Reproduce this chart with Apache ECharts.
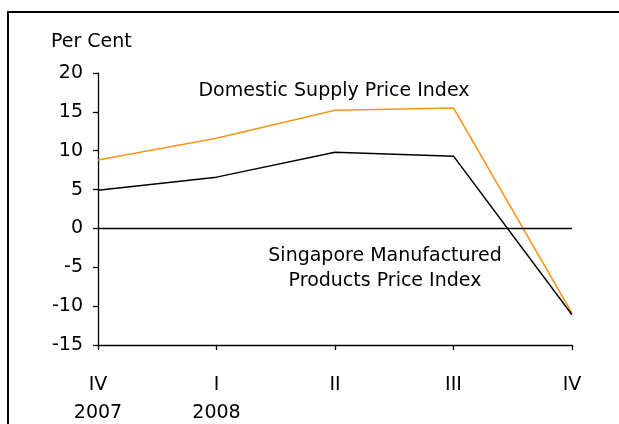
<!DOCTYPE html>
<html>
<head>
<meta charset="utf-8">
<script src="https://cdn.jsdelivr.net/npm/echarts@6/dist/echarts.min.js"></script>
<style>
  html, body { margin: 0; padding: 0; background: #fff; }
  #chart { width: 619px; height: 424px; }
</style>
</head>
<body>
<div id="chart"></div>
<script>
// quarters (Q4 2007 .. Q4 2008)
const quarters = ['IV\n2007', 'I\n2008', 'II', 'III', 'IV']
const domesticSupply = [8.8, 11.6, 15.2, 15.5, -10.9]
const manufactured = [4.9, 6.6, 9.8, 9.3, -11.1]
const yTicks = { min: -15, max: 20, step: 5 }

const font = 'DejaVu Sans'
const chart = echarts.init(document.getElementById('chart'))

const option = {
  animation: false,
  backgroundColor: '#fff',
  // outerBoundsMode none: keep the plot where we put it, labels may sit near the edge
  grid: { left: 98, right: 47, top: 73, bottom: 79, outerBoundsMode: 'none' },
  xAxis: {
    type: 'category',
    data: quarters,
    boundaryGap: false,
    axisLine: { onZero: false, lineStyle: { color: '#000', width: 1.3 } },
    axisTick: { alignWithLabel: true, length: 5, lineStyle: { color: '#000', width: 1.3 } },
    axisLabel: {
      color: '#000', fontFamily: font, fontSize: 19,
      margin: 26, lineHeight: 28, interval: 0
    },
    splitLine: { show: false }
  },
  yAxis: {
    type: 'value',
    min: yTicks.min,
    max: yTicks.max,
    interval: yTicks.step,
    axisLine: { show: true, lineStyle: { color: '#000', width: 1.3 } },
    axisTick: { show: true, length: 5, lineStyle: { color: '#000', width: 1.3 } },
    axisLabel: { color: '#000', fontFamily: font, fontSize: 19, margin: 15 },
    splitLine: { show: false }
  },
  series: [
    {
      name: 'Domestic Supply Price Index',
      type: 'line',
      data: domesticSupply,
      symbol: 'none',
      lineStyle: { color: '#f7941d', width: 1.6 }
    },
    {
      name: 'Singapore Manufactured Products Price Index',
      type: 'line',
      data: manufactured,
      symbol: 'none',
      lineStyle: { color: '#000', width: 1.5 },
      // zero line
      markLine: {
        silent: true,
        symbol: 'none',
        label: { show: false },
        lineStyle: { color: '#000', width: 1.3, type: 'solid' },
        data: [{ yAxis: 0 }]
      }
    }
  ],
  graphic: [
    {
      type: 'rect',
      shape: { x: 8, y: 12, width: 700, height: 500 },
      style: { fill: 'none', stroke: '#000', lineWidth: 2 },
      silent: true
    },
    {
      type: 'text', x: 51, y: 33,
      style: { text: 'Per Cent', font: '19px "DejaVu Sans"', fill: '#000' }
    },
    {
      type: 'text', x: 334, y: 82,
      style: { text: 'Domestic Supply Price Index', font: '19px "DejaVu Sans"', fill: '#000', align: 'center' }
    },
    {
      type: 'text', x: 385, y: 244,
      style: {
        text: 'Singapore Manufactured\nProducts Price Index',
        font: '19px "DejaVu Sans"', fill: '#000',
        align: 'center', lineHeight: 25
      }
    }
  ]
}

chart.setOption(option)
</script>
</body>
</html>
